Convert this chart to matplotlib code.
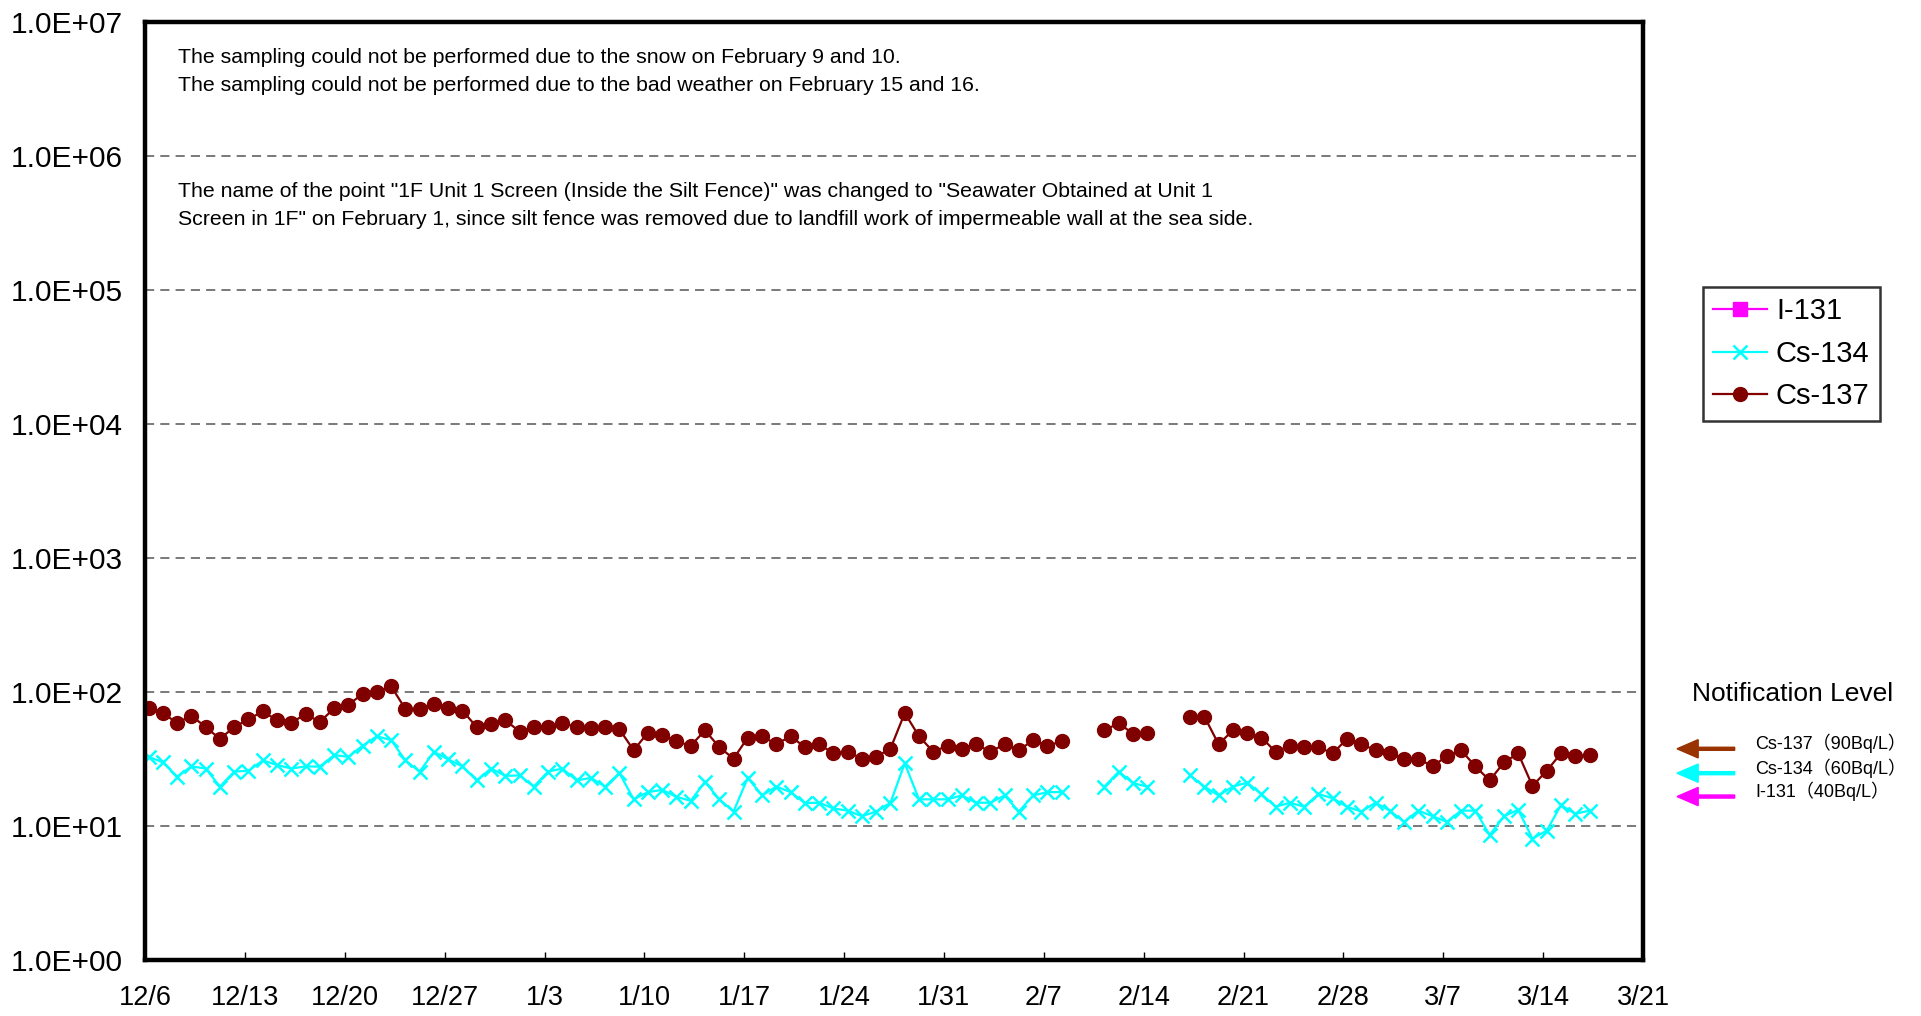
import numpy as np
import matplotlib
matplotlib.use("Agg")
import matplotlib.pyplot as plt
from matplotlib.ticker import FixedLocator, FuncFormatter, NullLocator

plt.rcParams['font.family'] = ['Liberation Sans', 'Noto Sans CJK JP', 'DejaVu Sans']

nan = np.nan

# daily samples, first one is 12/5 (day -1 relative to 12/6)
first_day = -1
sample_hour = 6  # morning sampling

cs137 = [105,
         76, 70, 59, 67, 55, 45, 55, 63, 72, 62, 59, 69, 60, 76, 81, 97, 101, 111, 75, 75,
         82, 76, 73, 55, 58, 62, 51, 55, 55, 59, 55, 54.5, 55.5, 53, 37, 50, 48, 43, 40, 52,
         39, 32, 46, 47, 41, 47, 39, 41, 35, 36, 32, 33, 38, 70, 47, 36, 40, 38, 41, 36,
         41, 37, 44, 40, 43, nan, nan, 52, 59, 49, 50, nan, nan, 65, 66, 41, 52, 50, 46, 36,
         40, 39, 39, 35, 45, 41, 37, 35, 32, 32, 28, 33.5, 37, 28, 22, 30, 35, 20, 26, 35,
         33.5, 34]

cs134 = [40,
         33, 30, 23.5, 28, 27, 19.8, 25.6, 26, 31, 28.7, 27, 28, 27.9, 34, 33, 40, 47, 44, 31, 25.6,
         36, 31.6, 28, 22, 27, 23.8, 24, 19.8, 25.6, 27, 22, 23, 19.8, 25, 15.9, 18, 18.7, 16.6,
         15.5, 21.5, 15.9, 12.9, 23, 17, 19.8, 18, 14.9, 15, 13.6, 13.1, 11.9, 12.9, 15, 29.5,
         15.9, 15.9, 15.9, 17, 15, 15, 17, 12.9, 17, 18, 18, nan, nan, 19.8, 25.6, 21, 19.8,
         nan, nan, 24, 19.8, 17, 19.8, 21.2, 17.4, 14, 15, 14, 17.4, 16.2, 14, 12.9, 15, 13.1,
         10.8, 13.1, 11.9, 10.8, 13.1, 13.1, 8.6, 11.9, 13.3, 8.1, 9.3, 14.4, 12.4, 13.1]

i131 = []  # all below detection limit

tick_labels = ['12/6', '12/13', '12/20', '12/27', '1/3', '1/10', '1/17', '1/24',
               '1/31', '2/7', '2/14', '2/21', '2/28', '3/7', '3/14', '3/21']

notify_labels = ['Cs-137\uff0890Bq/L\uff09', 'Cs-134\uff0860Bq/L\uff09', 'I-131\uff0840Bq/L\uff09']
notify_colors = ['#993300', '#00ffff', '#ff00ff']

notes = ['The sampling could not be performed due to the snow on February 9 and 10.',
         'The sampling could not be performed due to the bad weather on February 15 and 16.',
         'The name of the point "1F Unit 1 Screen (Inside the Silt Fence)" was changed to "Seawater Obtained at Unit 1',
         'Screen in 1F" on February 1, since silt fence was removed due to landfill work of impermeable wall at the sea side.']

days = first_day + np.arange(len(cs137)) + sample_hour / 24.0

fig = plt.figure(figsize=(19.21, 10.16), dpi=100)
ax = fig.add_axes([0.0755, 0.0548, 0.7798, 0.9232])

ax.plot(i131, i131, color='#ff00ff', marker='s', ms=10, lw=1.6, label='I-131')
ax.plot(days, cs134, color='#00ffff', marker='x', ms=10, mew=1.8, lw=1.6, label='Cs-134')
ax.plot(days, cs137, color='#800000', marker='o', ms=10, lw=1.6, label='Cs-137')

ax.set_yscale('log')
ax.set_ylim(1, 1e7)
ax.set_xlim(0, 7 * (len(tick_labels) - 1))
ax.xaxis.set_major_locator(FixedLocator(np.arange(len(tick_labels)) * 7))
ax.set_xticklabels(tick_labels)
ax.yaxis.set_major_locator(FixedLocator([10.0 ** k for k in range(8)]))
ax.yaxis.set_minor_locator(NullLocator())
ax.yaxis.set_major_formatter(FuncFormatter(lambda v, p: f"{v:.1E}"))
ax.tick_params(axis='x', direction='in', length=6, width=1, labelsize=19.5, pad=17.5)
ax.tick_params(axis='y', direction='in', length=0, labelsize=21.5, pad=16)

for k in range(1, 7):
    ax.axhline(10.0 ** k, color='#555555', lw=1.1, ls=(0, (6, 4)), zorder=0)

for s in ax.spines.values():
    s.set_linewidth(3.2)

leg = ax.legend(loc='upper left', bbox_to_anchor=(0.8865, 0.7175), bbox_transform=fig.transFigure,
                borderaxespad=0, fontsize=21, frameon=True, fancybox=False, edgecolor='black',
                handlelength=1.85, handletextpad=0.3, labelspacing=0.5, borderpad=0.35, numpoints=1)
leg.get_frame().set_linewidth(1.8)

for i, line in enumerate(notes):
    fig.text(0.0927, [0.9435, 0.9155, 0.8115, 0.7835][i], line, fontsize=15.3, va='center', ha='left')

fig.text(0.9334, 0.317, 'Notification Level', fontsize=19, ha='center', va='center')
for i, (lab, col) in enumerate(zip(notify_labels, notify_colors)):
    y = [0.263, 0.239, 0.216][i]
    fig.text(0.9136, y + 0.005, lab, fontsize=13, ha='left', va='center')
    fig.patches.append(matplotlib.patches.FancyArrow(
        0.903, y, -0.030, 0, width=0.003, head_width=0.018, head_length=0.011,
        length_includes_head=True, color=col, transform=fig.transFigure, figure=fig))

fig.savefig('out.png', dpi=100)
